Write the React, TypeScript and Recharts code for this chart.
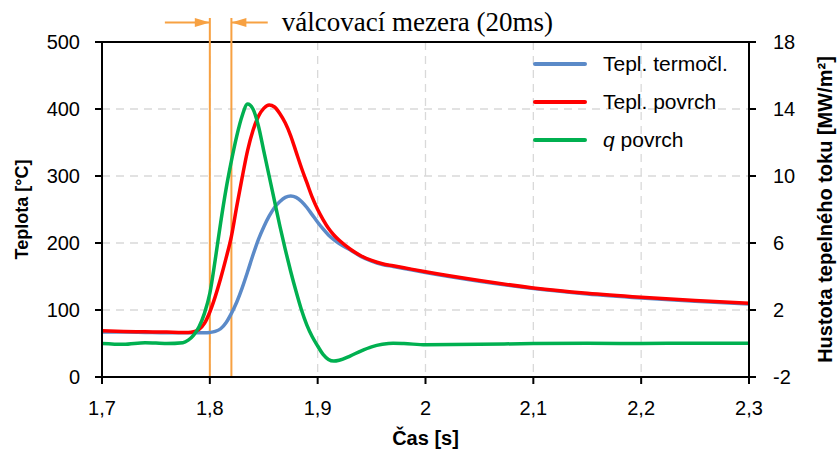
import React from 'react';
import {
  LineChart,
  Line,
  XAxis,
  YAxis,
  CartesianGrid,
  ReferenceLine,
  Legend,
} from 'recharts';

// čas [s]
const time = [
  1.7, 1.72, 1.74, 1.76, 1.775, 1.78,
  1.785, 1.79, 1.795, 1.8, 1.805, 1.81, 1.815, 1.82, 1.825, 1.83, 1.835, 1.84, 1.845, 1.85,
  1.855, 1.86, 1.865, 1.87, 1.875, 1.88, 1.885, 1.89, 1.895, 1.9, 1.905, 1.91, 1.915, 1.92,
  1.93, 1.94, 1.95, 1.96, 1.97, 1.98,
  2.0, 2.05, 2.1, 2.15, 2.2, 2.25, 2.3,
];

// teplota termočlánku [°C]
const teplTermocl = [
  67, 67, 66.5, 66, 66, 66,
  66, 66, 66, 66.5, 68, 72, 81, 95, 112, 133, 157, 182, 205, 224,
  240, 253, 262, 268, 270, 268, 262, 253, 242, 231, 221, 212, 205, 199,
  190, 180, 173, 168, 165, 162,
  156, 143, 132, 124, 118, 113, 109,
];

// teplota povrchu [°C]
const teplPovrch = [
  69, 68, 67.5, 67, 66.5, 66.5,
  67.5, 71, 80, 97, 120, 147, 177, 210, 255, 298, 338, 368, 389, 401,
  406, 403, 393, 379, 360, 336, 312, 290, 268, 250, 235, 222, 212, 204,
  191, 181, 174, 169, 166, 163,
  157, 144, 133, 125, 119, 114, 110,
];

// hustota tepelného toku na povrchu [MW/m2]
const qPovrch = [
  0, -0.05, 0.05, 0, 0.05, 0.2,
  0.5, 1.0, 1.8, 3.0, 5.0, 7.2, 9.2, 10.9, 12.4, 13.6, 14.3, 14.0, 13.0, 11.5,
  10.0, 8.5, 7.0, 5.6, 4.3, 3.1, 2.0, 1.1, 0.4, -0.15, -0.65, -0.95, -1.05, -1.0,
  -0.75, -0.45, -0.2, -0.05, 0.02, 0,
  -0.08, -0.05, 0, 0.02, 0, 0.02, 0.02,
];

const seriesNames = ['Tepl. termočl.', 'Tepl. povrch', 'q povrch'];

const timeTicks = [1.7, 1.8, 1.9, 2.0, 2.1, 2.2, 2.3];
const tempTicks = [0, 100, 200, 300, 400, 500];
const qTicks = [-2, 2, 6, 10, 14, 18];

// válcovací mezera: začátek a konec [s]
const gapStart = 1.8;
const gapEnd = 1.82;

const data = time.map((t, i) => ({
  t,
  termocl: teplTermocl[i],
  povrch: teplPovrch[i],
  q: qPovrch[i],
}));

const FONT = "'Liberation Sans', Arial, sans-serif";
const ORANGE = '#F7A142';

const fmtTime = (v: number) => String(v).replace('.', ',');

// popisek osy
const AxisTitle = (props: any) => {
  const { viewBox, value, side, size } = props;
  if (!viewBox) return null;
  let x = viewBox.x + viewBox.width / 2;
  let y = viewBox.y + viewBox.height / 2;
  let rot = 0;
  if (side === 'left') {
    x = viewBox.x + 22;
    rot = -90;
  } else if (side === 'right') {
    x = viewBox.x + viewBox.width - 12;
    rot = -90;
  } else {
    y = viewBox.y + 61;
  }
  return (
    <text
      x={x}
      y={y}
      textAnchor="middle"
      dominantBaseline="central"
      transform={rot ? `rotate(${rot}, ${x}, ${y})` : undefined}
      style={{ fontFamily: FONT, fontWeight: 'bold', fontSize: size, fill: '#000' }}
    >
      {value}
    </text>
  );
};

// šipka s hrotem na konci úsečky
const arrowShape = (withText: boolean) => (props: any) => {
  const { x1, y1, x2, y2 } = props;
  const dir = x2 > x1 ? 1 : -1;
  const head = 15;
  return (
    <g>
      <line x1={x1} y1={y1} x2={x2} y2={y2} stroke={ORANGE} strokeWidth={2} />
      <polygon
        points={`${x2},${y2} ${x2 - dir * head},${y2 - 4.5} ${x2 - dir * head},${y2 + 4.5}`}
        fill={ORANGE}
      />
      {withText && (
        <text
          x={x1 + 14}
          y={y1 + 8}
          style={{ fontFamily: "'Liberation Serif', 'Times New Roman', serif", fontSize: 27, fill: '#000' }}
        >
          válcovací mezera (20ms)
        </text>
      )}
    </g>
  );
};

const LegendBox = (props: any) => {
  const items = [...(props.payload || [])].sort(
    (a: any, b: any) => seriesNames.indexOf(a.value) - seriesNames.indexOf(b.value)
  );
  return (
    <div style={{ fontFamily: FONT, fontSize: 21, color: '#000' }}>
      {items.map((p: any) => {
        const name: string = p.value;
        const italicQ = name.startsWith('q ');
        return (
          <div key={name} style={{ display: 'flex', alignItems: 'center', height: 38 }}>
            <div style={{ width: 54, height: 4, background: p.color, borderRadius: 2 }} />
            <span style={{ marginLeft: 16, whiteSpace: 'nowrap' }}>
              {italicQ ? (
                <>
                  <i>q</i>
                  {name.slice(1)}
                </>
              ) : (
                name
              )}
            </span>
          </div>
        );
      })}
    </div>
  );
};

export default function App() {
  const tickStyle = { fill: '#000', fontSize: 20, fontFamily: FONT };
  return (
    <div style={{ position: 'absolute', left: 0, top: 0, background: '#fff' }}>
      <LineChart width={837} height={452} data={data} margin={{ top: 42, right: 0, bottom: 0, left: 0 }}>
        <CartesianGrid yAxisId="left" stroke="#d9d9d9" strokeDasharray="8 6" strokeWidth={1.3} />
        <XAxis
          dataKey="t"
          type="number"
          domain={[1.7, 2.3]}
          ticks={timeTicks}
          interval={0}
          tickFormatter={fmtTime}
          height={75}
          tick={tickStyle}
          tickSize={7}
          tickMargin={17}
          axisLine={{ stroke: '#000', strokeWidth: 2 }}
          tickLine={{ stroke: '#000', strokeWidth: 2 }}
          label={<AxisTitle side="bottom" value="Čas [s]" size={20} />}
        />
        <YAxis
          yAxisId="left"
          domain={[0, 500]}
          ticks={tempTicks}
          interval={0}
          width={102}
          tick={tickStyle}
          tickSize={7}
          tickMargin={15}
          axisLine={{ stroke: '#000', strokeWidth: 2 }}
          tickLine={{ stroke: '#000', strokeWidth: 2 }}
          label={<AxisTitle side="left" value="Teplota [°C]" size={18} />}
        />
        <YAxis
          yAxisId="right"
          orientation="right"
          domain={[-2, 18]}
          ticks={qTicks}
          interval={0}
          width={88}
          tick={tickStyle}
          tickSize={7}
          tickMargin={17}
          axisLine={{ stroke: '#000', strokeWidth: 2 }}
          tickLine={{ stroke: '#000', strokeWidth: 2 }}
          label={<AxisTitle side="right" value="Hustota tepelného toku [MW/m²]" size={20} />}
        />
        <ReferenceLine yAxisId="left" y={500} stroke="#000" strokeWidth={2} />
        <ReferenceLine
          yAxisId="left"
          ifOverflow="visible"
          segment={[{ x: gapStart, y: 0 }, { x: gapStart, y: 536 }]}
          stroke={ORANGE}
          strokeWidth={2}
        />
        <ReferenceLine
          yAxisId="left"
          ifOverflow="visible"
          segment={[{ x: gapEnd, y: 0 }, { x: gapEnd, y: 536 }]}
          stroke={ORANGE}
          strokeWidth={2}
        />
        <ReferenceLine
          yAxisId="left"
          ifOverflow="visible"
          segment={[{ x: 1.7583, y: 529 }, { x: gapStart, y: 529 }]}
          shape={arrowShape(false)}
        />
        <ReferenceLine
          yAxisId="left"
          ifOverflow="visible"
          segment={[{ x: 1.8537, y: 529 }, { x: gapEnd, y: 529 }]}
          shape={arrowShape(true)}
        />
        <Line
          yAxisId="left"
          type="monotone"
          dataKey="termocl"
          name={seriesNames[0]}
          stroke="#5B8AC8"
          strokeWidth={3.5}
          dot={false}
          isAnimationActive={false}
        />
        <Line
          yAxisId="left"
          type="monotone"
          dataKey="povrch"
          name={seriesNames[1]}
          stroke="#FF0000"
          strokeWidth={3.5}
          dot={false}
          isAnimationActive={false}
        />
        <Line
          yAxisId="right"
          type="monotone"
          dataKey="q"
          name={seriesNames[2]}
          stroke="#00B050"
          strokeWidth={3.5}
          dot={false}
          isAnimationActive={false}
        />
        <Legend
          layout="vertical"
          align="center"
          verticalAlign="middle"
          content={<LegendBox />}
          wrapperStyle={{ left: 533, top: 45, width: 240, height: 114 }}
        />
      </LineChart>
    </div>
  );
}
